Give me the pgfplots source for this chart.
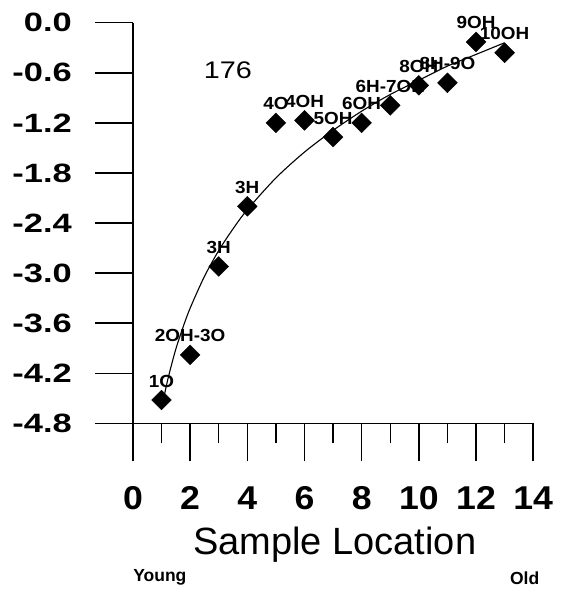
\documentclass[border=0pt]{standalone}
\usepackage{pgfplots}
\pgfplotsset{compat=1.18}
\usepackage{pgfplotstable}
\usepackage{fontspec}
\setmainfont{Liberation Sans}
\newfontfamily\ytfont[FakeStretch=1.3]{Liberation Sans Bold}
\newfontfamily\xtfont[FakeStretch=1.08]{Liberation Sans Bold}
\newfontfamily\numfont[FakeStretch=1.2]{Liberation Sans}
\newfontfamily\ptfont[FakeStretch=1.08]{Liberation Sans Bold}

\pgfplotstableread{
x y label
1 -4.52 1O
2 -3.98 2OH-3O
3 -2.92 3H
4 -2.20 3H
5 -1.20 4O
6 -1.17 4OH
7 -1.37 5OH
8 -1.20 6OH
9 -0.99 6H-7OH
10 -0.75 8OH
11 -0.72 8H-9O
12 -0.23 9OH
13 -0.36 10OH
}\data

\begin{document}
\begin{tikzpicture}
\begin{axis}[
  x=28.6pt, y=83.5pt,
  xmin=0, xmax=14, ymin=-4.8, ymax=0,
  axis lines*=left,
  clip=false,
  axis line style={line width=1.5pt},
  every major tick/.style={line width=1.5pt, black, solid},
  tick align=outside,
  major tick length=38pt,
  xtick={0,2,...,14},
  extra x ticks={1,3,...,13},
  extra x tick labels={},
  extra x tick style={major tick length=20pt},
  ytick={-4.8,-4.2,-3.6,-3.0,-2.4,-1.8,-1.2,-0.6,0},
  /pgf/number format/assume math mode=true,
  yticklabel style={/pgf/number format/fixed, /pgf/number format/precision=1, /pgf/number format/fixed zerofill, font=\ytfont\fontsize{26.5}{26.5}\selectfont, anchor=east, inner sep=0pt, xshift=-23pt},
  xticklabel style={font=\xtfont\fontsize{33}{33}\selectfont, anchor=center, yshift=-37pt},
]
\path (axis cs:-4.65,0.272) rectangle (axis cs:15.245,-6.782);
\addplot[line width=1.1pt, smooth, black] coordinates {
(1.1,-4.46) (1.25,-4.23) (1.5,-3.91) (1.75,-3.65) (2,-3.42) (2.5,-3.04)
(3,-2.73) (3.5,-2.47) (4,-2.24) (5,-1.86) (6,-1.55) (7,-1.29) (8,-1.06)
(9,-0.86) (10,-0.69) (11,-0.52) (12,-0.38) (13,-0.24)};
\addplot[draw=none, mark=none, nodes near coords, point meta=explicit symbolic,
  every node near coord/.style={anchor=base, yshift=13pt, inner sep=0pt, font=\ptfont\fontsize{17.5}{17.5}\selectfont, black}]
  table[x=x, y=y, meta=label]{\data};
\addplot[only marks, mark=square*, mark size=7pt, mark options={rotate=45, fill=black, draw=black}]
  table[x=x, y=y]{\data};
\node[font=\numfont\fontsize{24}{24}\selectfont] at (axis cs:3.32,-0.57) {176};
\node[font=\fontsize{38}{38}\selectfont] at (axis cs:7.06,-6.25) {Sample Location};
\node[font=\bfseries\fontsize{17.5}{17.5}\selectfont] at (axis cs:0.94,-6.65) {Young};
\node[font=\bfseries\fontsize{17.5}{17.5}\selectfont] at (axis cs:13.7,-6.65) {Old};
\end{axis}
\end{tikzpicture}
\end{document}
